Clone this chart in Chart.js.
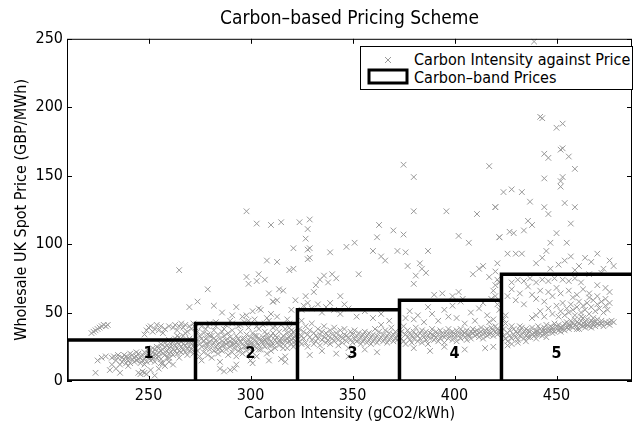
<!DOCTYPE html>
<html>
<head>
<meta charset="utf-8">
<script src="https://cdn.jsdelivr.net/npm/chart.js@4/dist/chart.umd.min.js"></script>
<style>
  html, body { margin: 0; padding: 0; background: #fff; }
  #wrap { position: relative; width: 633px; height: 426px; }
  #legend {
    position: absolute; left: 360px; top: 46px; width: 271px; height: 42px;
    border: 1px solid #000; background: #fff;
    font-family: 'DejaVu Sans Condensed', 'DejaVu Sans', sans-serif; font-size: 16px; color: #000;
  }
  #legend .row { position: absolute; left: 53px; white-space: nowrap; line-height: 19px; }
  #legend svg { position: absolute; }
</style>
</head>
<body>
<div id="wrap">
  <canvas id="chart" width="633" height="426"></canvas>
  <div id="legend"></div>
</div>
<script>
// Carbon intensity (gCO2/kWh) against wholesale spot price (GBP/MWh)
const intensityPrice = [
  // band 1
  [222,35],[223,36],[224,37],[225,38],[226,39],[227,40],[228,41],[229,40],[230,41],
  [224,6],[225,15],[227,17],[229,18],
  [231,8],[232,12],[232,17],[233,18],[234,9],[234,15],[235,17],[235,19],[236,12],[236,6],[237,17],[237,14],
  [238,19],[238,16],[239,13],[239,18],[240,17],[240,15],[241,20],[241,13],[242,16],[242,19],[243,17],[243,14],
  [244,15],[244,18],[245,20],[245,16],[245,6],[246,17],[246,13],[246,5],[247,19],[247,15],[247,7],[248,16],
  [248,21],[248,6],[249,18],[249,14],[249,5],[250,17],[250,20],[250,22],[251,15],[251,19],[251,8],[252,18],
  [252,21],[252,16],
  [253,20],[253,23],[253,14],[254,19],[254,17],[254,25],[255,21],[255,18],[255,24],[256,16],[256,22],[256,27],
  [257,20],[257,23],[257,13],[258,25],[258,19],[258,28],[259,22],[259,17],[259,26],[260,24],[260,20],[260,30],
  [260,14],[261,21],[261,27],[261,25],[262,23],[262,19],[262,29],[263,26],[263,22],[263,31],[264,24],[264,20],
  [264,28],[265,27],[265,22],[265,32],[265,17],[266,25],[266,29],[266,21],[267,23],[267,27],[267,33],[268,26],
  [268,21],[268,30],[269,28],[269,24],[269,19],[270,25],[270,31],[270,22],[271,27],[271,29],[271,23],[272,26],
  [272,30],[272,20],[273,28],[273,24],
  [240,11],[244,21],[248,12],[252,24],[256,13],[260,17],[264,33],[268,35],
  [248,34],[249,37],[250,39],[251,40],[252,36],[253,38],[254,41],[255,37],[256,40],[257,35],[258,38],[260,40],
  [262,39],[263,41],[264,37],[265,40],[266,42],[267,39],[268,41],[269,36],[270,40],[271,38],[272,42],[273,39],
  [255,9],[258,11],[262,12],[253,4],
  [265,81],[270,54],[274,58],[279,67],[282,55],
  // band 2
  [274,22],[274,30],[274,36],[275,18],[275,27],[275,33],[276,25],[276,40],[276,15],[277,29],[277,21],[277,35],
  [278,24],[278,31],[278,38],[279,19],[279,27],[279,34],[280,23],[280,29],[280,42],
  [281,26],[281,33],[281,17],[282,28],[282,22],[282,37],[283,30],[283,25],[283,40],[284,20],[284,27],[284,34],
  [285,24],[285,31],[285,9],[286,29],[286,36],[286,22],[287,26],[287,33],[287,7],[288,23],[288,30],[288,41],
  [289,28],[289,19],[289,35],[290,25],[290,32],[290,8],[290,44],
  [291,27],[291,21],[291,37],[292,30],[292,24],[292,9],[293,28],[293,33],[293,18],[294,26],[294,31],[294,40],
  [295,23],[295,29],[295,36],[296,27],[296,20],[296,47],[297,31],[297,25],[297,43],[298,28],[298,22],[298,34],
  [299,30],[299,26],[299,39],[300,24],[300,32],[300,29],[300,15],
  [301,27],[301,35],[301,21],[302,30],[302,25],[302,45],[303,28],[303,33],[303,18],[304,26],[304,31],[304,38],
  [305,29],[305,23],[305,52],[306,32],[306,27],[306,41],[307,25],[307,30],[307,36],[308,28],[308,34],[308,20],
  [309,31],[309,26],[309,44],[310,29],[310,33],[310,22],
  [311,27],[311,35],[311,58],[312,30],[312,24],[312,40],[313,32],[313,28],[313,59],[314,26],[314,36],[314,67],
  [315,31],[315,29],[315,16],[316,33],[316,27],[316,66],[317,30],[317,38],[317,18],[318,28],[318,35],[318,24],
  [319,32],[319,29],[319,42],[320,34],[320,27],[320,37],[321,31],[321,36],[321,25],[322,33],[322,29],[322,59],
  [323,35],[323,30],
  [276,31],[278,27],[280,33],[282,31],[284,23],[286,26],[288,27],[290,29],[292,27],[294,22],[296,31],[298,25],
  [300,27],[302,33],[304,23],[306,29],[308,31],[310,26],[312,33],[314,29],[316,24],[318,31],[320,30],[322,27],
  [279,40],[283,43],[287,38],[291,42],[295,41],[299,44],[303,40],[307,42],[311,39],[315,41],[319,39],
  [285,14],[293,12],[301,13],[309,15],[317,14],
  [286,50],[291,48],[293,54],[298,48],[301,51],[304,53],[308,46],[310,49],[313,47],[318,45],[320,52],
  [298,76],[304,78],[307,74],[299,71],[303,73],[308,88],[313,87],[310,114],[324,116],[329,97],[328,89],[319,81],
  [321,82],[309,64],[311,58],
  [298,124],[303,115],[315,116],[329,118],[328,111],[327,104],[328,96],[321,97],
  // band 3
  [324,29],[324,38],[325,33],[325,27],[325,44],[326,31],[326,36],[327,28],[327,40],[328,34],[328,25],[329,32],
  [329,37],[330,30],[330,42],[331,35],[331,27],[332,33],[332,29],[333,38],[333,31],[334,34],[334,26],[335,30],
  [335,36],[336,32],[336,40],[337,28],[337,35],[338,33],[338,30],[339,37],[339,27],[340,31],[340,34],[341,29],
  [341,39],[342,35],[342,32],[343,30],[343,26],[344,33],[344,37],[345,31],[345,28],[346,34],[346,38],[347,29],
  [347,33],[348,32],[348,24],[349,36],[349,30],[350,34],[350,28],[351,31],[351,37],[352,33],[352,29],[353,30],
  [353,35],[354,27],[354,32],[355,34],[355,29],[356,31],[356,36],[357,28],[357,33],[358,30],[358,35],[359,32],
  [359,27],[360,29],[360,34],[361,31],[361,38],[362,33],[362,28],[363,30],[363,36],[364,32],[364,41],[365,29],
  [365,34],[366,31],[366,37],[367,33],[367,28],[368,35],[368,30],[369,32],[369,39],[370,34],[370,29],[371,31],
  [371,36],[372,33],[372,30],[373,35],
  [335,22],[342,20],[348,18],[356,23],[362,21],[329,19],
  [325,52],[326,55],[328,57],[330,53],[333,56],[335,50],[337,54],[339,57],[341,52],[344,49],[346,56],[348,53],
  [352,47],[356,51],[360,46],[364,49],[368,44],[327,62],[331,65],[344,62],
  [332,70],[334,74],[336,77],[338,72],[340,78],[342,75],[353,78],[329,90],[339,94],[347,98],[351,101],[360,95],
  [362,105],[363,114],[370,110],[366,88],[364,91],[372,95],[375,107],[376,94],[375,158],[380,149],[380,124],
  // band 4
  [374,31],[374,36],[375,29],[375,40],[376,34],[376,27],[377,32],[377,37],[378,30],[378,35],[379,33],[379,28],
  [380,36],[380,31],[381,34],[381,39],[382,29],[382,33],[383,35],[383,31],[384,37],[384,28],[385,32],[385,34],
  [386,30],[386,36],[387,33],[387,27],[388,35],[388,31],[389,34],[389,38],[390,30],[390,33],[391,36],[391,32],
  [392,34],[392,29],[393,31],[393,37],[394,35],[394,33],[395,32],[395,28],[396,36],[396,34],[397,31],[397,38],
  [398,33],[398,35],[399,30],[399,36],[400,34],[400,32],[401,37],[401,29],[402,35],[402,33],[403,31],[403,38],
  [404,34],[404,36],[405,32],[405,35],[406,37],[406,30],[407,34],[407,33],[408,36],[408,31],[409,35],[409,38],
  [410,33],[410,36],[411,34],[411,37],[412,32],[412,35],[413,36],[413,39],[414,34],[414,31],[415,37],[415,35],
  [416,33],[416,38],[417,36],[417,34],[418,35],[418,39],[419,37],[419,33],[420,36],[420,40],[421,34],[421,38],
  [422,37],[422,35],[423,36],
  [380,24],[388,22],[395,25],[405,23],[415,24],[419,25],
  [376,46],[378,51],[380,45],[382,48],[385,43],[387,54],[389,49],[392,44],[395,52],[397,47],[399,55],[401,46],
  [403,58],[405,42],[408,50],[410,44],[412,53],[414,57],[416,48],[418,60],[420,62],[421,56],[422,52],[419,45],
  [417,43],
  [377,84],[381,77],[384,82],[386,79],[383,86],[380,71],[390,63],[394,64],[399,62],[402,65],[404,60],[409,78],
  [412,82],[414,84],[417,76],[419,66],[420,70],[421,74],[420,80],[421,86],[422,72],[387,95],[396,124],[407,101],
  [402,106],[411,122],[417,157],[420,127],[422,105],
  // band 5
  [424,33],[424,38],[425,31],[425,42],[426,35],[426,29],[427,37],[427,33],[428,40],[428,31],[429,34],[429,38],
  [430,32],[430,36],[431,35],[431,30],[432,37],[432,33],[433,34],[433,39],[434,36],[434,31],[435,33],[435,38],
  [436,35],[436,37],[437,32],[437,36],[438,34],[438,39],[439,35],[439,33],[440,37],[440,36],[441,34],[441,40],
  [442,38],[442,35],[443,36],[443,33],[444,39],[444,37],[445,35],[445,41],[446,38],[446,36],[447,37],[447,40],
  [448,39],[448,35],[449,36],[449,42],[450,38],[450,40],[451,37],[451,41],[452,39],[452,36],[453,40],[453,38],
  [454,42],[454,37],[455,39],[455,43],[456,41],[456,38],[457,40],[457,44],[458,42],[458,39],[459,41],[459,45],
  [460,43],[460,40],[461,42],[461,38],[462,44],[462,41],[463,40],[463,46],[464,43],[464,39],[465,41],[465,45],
  [466,42],[466,40],[467,44],[467,39],[468,41],[468,46],[469,43],[469,40],[470,42],[470,45],[471,41],[472,44],
  [473,40],[474,43],[475,42],[476,41],[477,44],[478,43],
  [432,40],[436,32],[440,34],[444,35],[448,37],[452,38],[456,40],[460,38],[464,41],[468,43],[472,42],[476,43],
  [424,45],[425,48],[426,26],[428,27],[431,28],[435,29],[440,31],[445,32],
  [438,46],[440,48],[442,51],[444,47],[446,53],[448,49],[450,55],[451,47],[452,51],[453,57],[454,48],[455,53],
  [456,50],[457,56],[458,52],[459,48],[460,54],[461,58],[462,50],[463,55],[464,52],[465,57],[466,49],[467,54],
  [468,59],[469,51],[470,56],[471,53],[472,58],[473,50],[474,55],[475,52],[476,57],[462,47],[466,61],[470,62],
  [474,60],[458,61],
  [426,62],[428,67],[430,59],[432,64],[434,56],[436,69],[438,63],[440,60],[442,66],[444,58],[446,65],[448,62],
  [450,68],[452,64],[456,66],[460,63],[463,67],[466,64],[470,70],[474,68],[476,65],[428,72],[431,74],[434,73],
  [437,75],[440,72],[443,74],[446,73],[449,75],[453,74],[456,73],[459,75],[462,72],
  [426,93],[430,93],[433,93],[440,86],[443,90],[445,95],[447,82],[451,85],[454,88],[457,91],[461,84],[464,90],
  [467,87],[470,93],[473,82],[476,88],[478,84],[472,79],[466,78],[459,81],
  [439,248],[442,193],[443,192],[450,185],[453,188],[452,169],[453,170],[456,164],[444,166],[446,163],[459,155],
  [444,148],[453,149],[452,146],[452,142],[424,138],[428,140],[433,138],[437,131],[420,127],[444,127],[446,122],
  [454,130],[459,127],[457,115],[436,117],[438,114],[434,110],[427,109],[429,108],[422,105],[450,108],[447,101],
  [455,101]
];

// carbon bands: edges (gCO2/kWh) and the flat price of each band (GBP/MWh)
const bandEdges = [210, 273, 323, 373, 423, 500];
const bandPrices = [30, 42, 52, 59, 78];
const bandNames = ['1', '2', '3', '4', '5'];
const bandCentres = [250, 300, 350, 400, 450];

const xTicks = [250, 300, 350, 400, 450];
const yTicks = [0, 50, 100, 150, 200, 250];

const FONT = "'DejaVu Sans Condensed', 'DejaVu Sans', sans-serif";
const GREY = '#999999';

// outline of the band boxes, walked along the bottom axis
const bandOutline = [];
bandPrices.forEach((p, i) => {
    bandOutline.push({x: bandEdges[i], y: 0});
    bandOutline.push({x: bandEdges[i], y: p});
    bandOutline.push({x: bandEdges[i + 1], y: p});
    bandOutline.push({x: bandEdges[i + 1], y: 0});
});
bandOutline.push({x: bandEdges[0], y: 0});

// inward ticks on all four sides, frame and the band numbers
const frameTicks = {
    id: 'frameTicks',
    afterDatasetsDraw(chart) {
        const {ctx, chartArea: a, scales: {x, y}} = chart;
        ctx.save();
        ctx.strokeStyle = '#000';
        ctx.lineWidth = 1;
        ctx.strokeRect(a.left + 0.5, a.top + 0.5, a.right - a.left - 1, a.bottom - a.top - 1);
        ctx.beginPath();
        xTicks.forEach(v => {
            const px = Math.round(x.getPixelForValue(v)) + 0.5;
            ctx.moveTo(px, a.bottom); ctx.lineTo(px, a.bottom - 5);
            ctx.moveTo(px, a.top); ctx.lineTo(px, a.top + 5);
        });
        yTicks.forEach(v => {
            const py = Math.round(y.getPixelForValue(v)) + 0.5;
            ctx.moveTo(a.left, py); ctx.lineTo(a.left + 5, py);
            ctx.moveTo(a.right, py); ctx.lineTo(a.right - 5, py);
        });
        ctx.stroke();

        ctx.fillStyle = '#000';
        ctx.font = 'bold 16px ' + FONT;
        ctx.textAlign = 'center';
        ctx.textBaseline = 'middle';
        bandNames.forEach((t, i) => {
            ctx.fillText(t, x.getPixelForValue(bandCentres[i]), y.getPixelForValue(20));
        });
        ctx.restore();
    }
};

const chart = new Chart(document.getElementById('chart'), {
    type: 'scatter',
    data: {
        datasets: [{
            type: 'line',
            label: 'Carbon\u2013band Prices',
            data: bandOutline,
            borderColor: '#000',
            borderWidth: 3.5,
            backgroundColor: '#fff',
            pointRadius: 0,
            fill: false,
            tension: 0
        }, {
            label: 'Carbon Intensity against Price',
            data: intensityPrice.map(p => ({x: p[0], y: p[1]})),
            pointStyle: 'crossRot',
            pointRadius: 4,
            borderColor: GREY,
            borderWidth: 1,
            backgroundColor: GREY
        }]
    },
    options: {
        responsive: false,
        animation: false,
        devicePixelRatio: 1,
        layout: {autoPadding: false, padding: {left: 0, right: 1, top: 0, bottom: 0}},
        plugins: {
            legend: {display: false},
            tooltip: {enabled: false},
            title: {
                display: true,
                fullSize: false,
                text: 'Carbon\u2013based Pricing Scheme',
                color: '#000',
                font: {family: FONT, size: 19, weight: 'normal'},
                padding: {top: 8, bottom: 8}
            }
        },
        scales: {
            x: {
                type: 'linear',
                min: 210,
                max: 487,
                afterBuildTicks: s => { s.ticks = xTicks.map(v => ({value: v})); },
                afterFit: s => { s.height = 45; },
                grid: {display: false, drawTicks: false},
                border: {display: false},
                ticks: {color: '#000', font: {family: FONT, size: 16}, padding: 5},
                title: {
                    display: true,
                    text: 'Carbon Intensity (gCO2/kWh)',
                    color: '#000',
                    font: {family: FONT, size: 16},
                    padding: {top: 0, bottom: 3}
                }
            },
            y: {
                min: 0,
                max: 250,
                afterBuildTicks: s => { s.ticks = yTicks.map(v => ({value: v})); },
                afterFit: s => { s.width = 67; },
                grid: {display: false, drawTicks: false},
                border: {display: false},
                ticks: {color: '#000', font: {family: FONT, size: 16}, padding: 4},
                title: {
                    display: true,
                    text: 'Wholesale UK Spot Price (GBP/MWh)',
                    color: '#000',
                    font: {family: FONT, size: 16},
                    padding: {top: 12, bottom: 0}
                }
            }
        }
    },
    plugins: [frameTicks]
});

// legend built from the datasets, scatter entry first
const legend = document.getElementById('legend');
const sets = chart.data.datasets;
legend.innerHTML =
    '<svg width="12" height="12" style="left:21px;top:7px">' +
    '<path d="M3 3 L9 9 M9 3 L3 9" stroke="' + GREY + '" stroke-width="1"/></svg>' +
    '<div class="row" style="top:3px">' + sets[1].label + '</div>' +
    '<svg width="44" height="18" style="left:6px;top:21px">' +
    '<rect x="2" y="2" width="38" height="13" fill="#fff" stroke="#000" stroke-width="3"/></svg>' +
    '<div class="row" style="top:21px">' + sets[0].label + '</div>';
</script>
</body>
</html>
